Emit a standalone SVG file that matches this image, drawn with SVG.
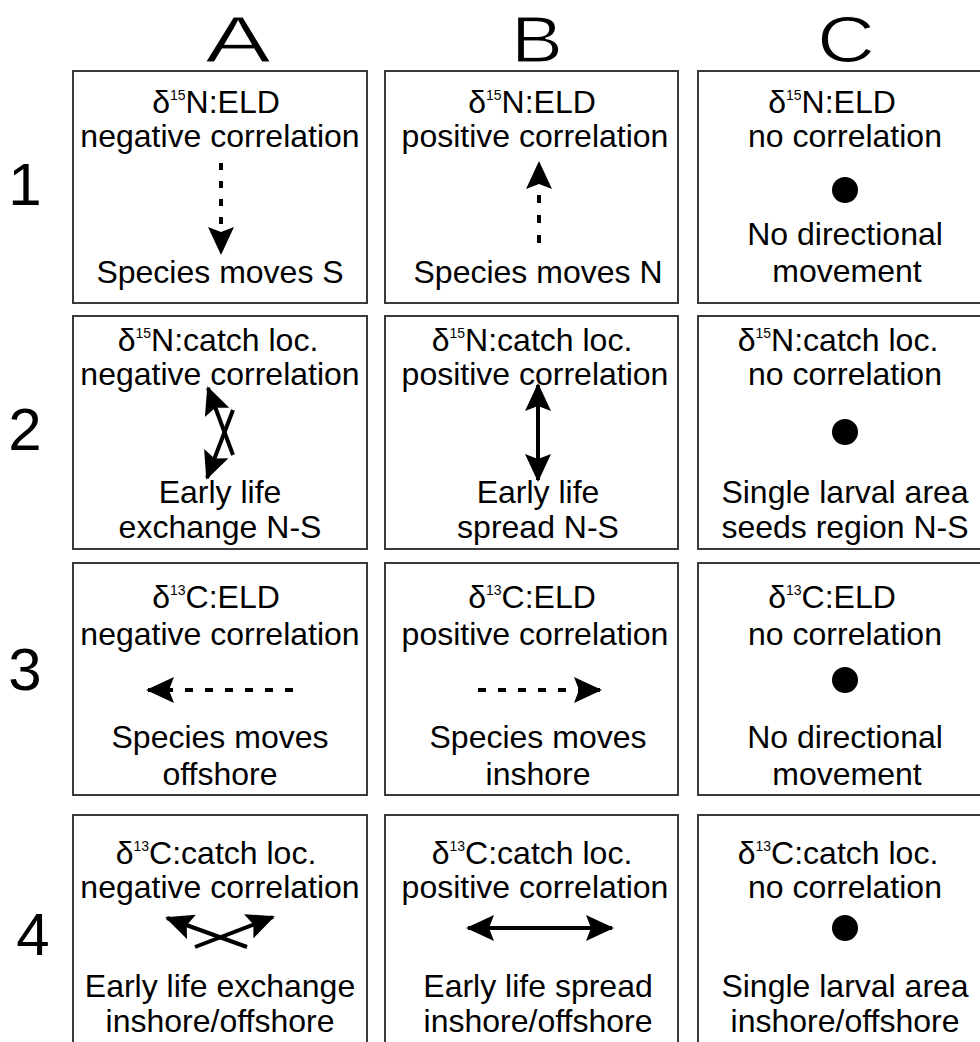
<svg xmlns="http://www.w3.org/2000/svg" width="980" height="1042" viewBox="0 0 980 1042">
<style>
text{font-family:"Liberation Sans",Arial,sans-serif;fill:#000;text-anchor:middle}
.t{font-size:32px}
.sup{font-size:14px}
.hd{font-size:64px;stroke:#fff;stroke-width:1.2}
.rn{font-size:60px}
.box{fill:#fff;stroke:#3a3a3a;stroke-width:2}
.dash{stroke:#000;stroke-width:4;fill:none}
.sol{stroke:#000;stroke-width:4;fill:none}
.dot{fill:#000}
</style>
<defs>
<marker id="ah" viewBox="0 0 28 26" markerUnits="userSpaceOnUse" markerWidth="28" markerHeight="26" refX="26" refY="13" orient="auto-start-reverse">
<path d="M0,0 L28,13 L0,26 L5,13 Z" fill="#000"/>
</marker>
</defs>
<rect width="980" height="1042" fill="#fff"/>
<g id="headers">
<text class="hd" x="238" y="62" textLength="66" lengthAdjust="spacingAndGlyphs">A</text>
<text class="hd" x="537" y="62" textLength="52" lengthAdjust="spacingAndGlyphs">B</text>
<text class="hd" x="846" y="62" textLength="58" lengthAdjust="spacingAndGlyphs">C</text>
<text class="rn" x="25" y="205">1</text>
<text class="rn" x="25" y="450">2</text>
<text class="rn" x="25" y="690">3</text>
<text class="rn" x="33" y="955">4</text>
</g>
<g id="A1"><rect class="box" x="73" y="71" width="294" height="232"/>
<text class="t" x="216" y="113">δ<tspan class="sup" dy="-13">15</tspan><tspan dy="13">N:ELD</tspan></text>
<text class="t" x="220" y="147">negative correlation</text>
<text class="t" x="220" y="283">Species moves S</text></g>
<g id="B1"><rect class="box" x="385" y="71" width="293" height="232"/>
<text class="t" x="532" y="113">δ<tspan class="sup" dy="-13">15</tspan><tspan dy="13">N:ELD</tspan></text>
<text class="t" x="535" y="147">positive correlation</text>
<text class="t" x="538" y="283">Species moves N</text></g>
<g id="C1"><rect class="box" x="698" y="71" width="294" height="232"/>
<text class="t" x="832" y="113">δ<tspan class="sup" dy="-13">15</tspan><tspan dy="13">N:ELD</tspan></text>
<text class="t" x="845" y="147">no correlation</text>
<circle class="dot" cx="845" cy="190" r="13"/>
<text class="t" x="845" y="245">No directional</text>
<text class="t" x="847" y="282">movement</text></g>
<g id="A2"><rect class="box" x="73" y="316" width="294" height="233"/>
<text class="t" x="218" y="351">δ<tspan class="sup" dy="-13">15</tspan><tspan dy="13">N:catch loc.</tspan></text>
<text class="t" x="220" y="385">negative correlation</text>
<text class="t" x="220" y="503">Early life</text>
<text class="t" x="220" y="538">exchange N-S</text></g>
<g id="B2"><rect class="box" x="385" y="316" width="293" height="233"/>
<text class="t" x="532" y="351">δ<tspan class="sup" dy="-13">15</tspan><tspan dy="13">N:catch loc.</tspan></text>
<text class="t" x="535" y="385">positive correlation</text>
<text class="t" x="538" y="503">Early life</text>
<text class="t" x="538" y="538">spread N-S</text></g>
<g id="C2"><rect class="box" x="698" y="316" width="294" height="233"/>
<text class="t" x="838" y="351">δ<tspan class="sup" dy="-13">15</tspan><tspan dy="13">N:catch loc.</tspan></text>
<text class="t" x="845" y="385">no correlation</text>
<circle class="dot" cx="845" cy="432" r="13"/>
<text class="t" x="845" y="503">Single larval area</text>
<text class="t" x="845" y="538">seeds region N-S</text></g>
<g id="A3"><rect class="box" x="73" y="563" width="294" height="232"/>
<text class="t" x="216" y="608">δ<tspan class="sup" dy="-13">13</tspan><tspan dy="13">C:ELD</tspan></text>
<text class="t" x="220" y="645">negative correlation</text>
<text class="t" x="220" y="748">Species moves</text>
<text class="t" x="220" y="785">offshore</text></g>
<g id="B3"><rect class="box" x="385" y="563" width="293" height="232"/>
<text class="t" x="532" y="608">δ<tspan class="sup" dy="-13">13</tspan><tspan dy="13">C:ELD</tspan></text>
<text class="t" x="535" y="645">positive correlation</text>
<text class="t" x="538" y="748">Species moves</text>
<text class="t" x="538" y="785">inshore</text></g>
<g id="C3"><rect class="box" x="698" y="563" width="294" height="232"/>
<text class="t" x="832" y="608">δ<tspan class="sup" dy="-13">13</tspan><tspan dy="13">C:ELD</tspan></text>
<text class="t" x="845" y="645">no correlation</text>
<circle class="dot" cx="845" cy="680" r="13"/>
<text class="t" x="845" y="748">No directional</text>
<text class="t" x="847" y="785">movement</text></g>
<g id="A4"><rect class="box" x="73" y="815" width="294" height="232"/>
<text class="t" x="216" y="864">δ<tspan class="sup" dy="-13">13</tspan><tspan dy="13">C:catch loc.</tspan></text>
<text class="t" x="220" y="898">negative correlation</text>
<text class="t" x="220" y="997">Early life exchange</text>
<text class="t" x="220" y="1032">inshore/offshore</text></g>
<g id="B4"><rect class="box" x="385" y="815" width="293" height="232"/>
<text class="t" x="532" y="864">δ<tspan class="sup" dy="-13">13</tspan><tspan dy="13">C:catch loc.</tspan></text>
<text class="t" x="535" y="898">positive correlation</text>
<text class="t" x="538" y="997">Early life spread</text>
<text class="t" x="538" y="1032">inshore/offshore</text></g>
<g id="C4"><rect class="box" x="698" y="815" width="294" height="232"/>
<text class="t" x="838" y="864">δ<tspan class="sup" dy="-13">13</tspan><tspan dy="13">C:catch loc.</tspan></text>
<text class="t" x="845" y="898">no correlation</text>
<circle class="dot" cx="845" cy="928" r="13"/>
<text class="t" x="845" y="997">Single larval area</text>
<text class="t" x="845" y="1032">inshore/offshore</text></g>
<g id="connectors">
<line class="dash" x1="221" y1="163" x2="221" y2="253" stroke-dasharray="7 11" marker-end="url(#ah)"/>
<line class="dash" x1="539" y1="243" x2="539" y2="163" stroke-dasharray="8 12" marker-end="url(#ah)"/>
<line class="sol" x1="233" y1="455" x2="208" y2="388" marker-end="url(#ah)"/>
<line class="sol" x1="233" y1="410" x2="207" y2="478" marker-end="url(#ah)"/>
<line class="sol" x1="538" y1="385" x2="538" y2="480" stroke-width="3.5" marker-start="url(#ah)" marker-end="url(#ah)"/>
<line class="dash" x1="293" y1="690" x2="148" y2="690" stroke-dasharray="8 12" marker-end="url(#ah)"/>
<line class="dash" x1="478" y1="690" x2="600" y2="690" stroke-dasharray="8 12" marker-end="url(#ah)"/>
<line class="sol" x1="195" y1="947" x2="273" y2="917" marker-end="url(#ah)"/>
<line class="sol" x1="247" y1="947" x2="167" y2="918" marker-end="url(#ah)"/>
<line class="sol" x1="468" y1="928" x2="612" y2="928" stroke-width="3.5" marker-start="url(#ah)" marker-end="url(#ah)"/>
</g>
</svg>
